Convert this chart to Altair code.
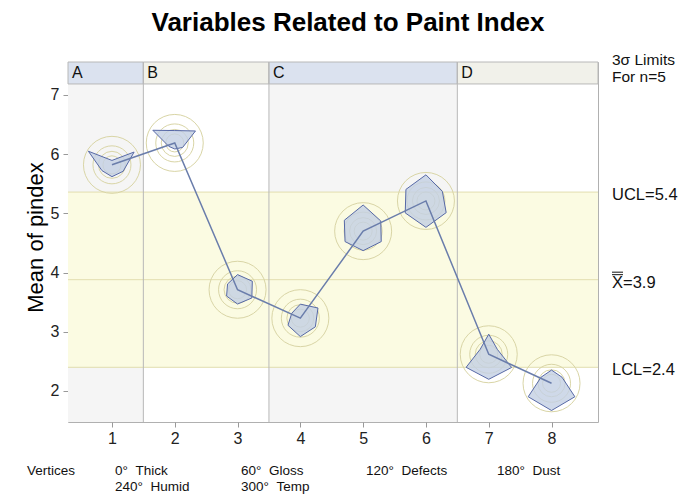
import altair as alt
import pandas as pd
import numpy as np

# ---------------- data ----------------
samples = [1, 2, 3, 4, 5, 6, 7, 8]
means = [5.82, 6.19, 3.71, 3.23, 4.70, 5.21, 2.62, 2.13]
phases = ["A", "B", "C", "D"]
phase_first = [1, 2, 4, 7]
phase_last = [1, 3, 6, 8]
ucl, center, lcl = 5.36, 3.88, 2.40
limit_labels = ["UCL=5.4", "X=3.9", "LCL=2.4"]
vertex_names = ["Thick", "Gloss", "Defects", "Dust", "Humid", "Temp"]
vertex_angles = [0, 60, 120, 180, 240, 300]
# relative vertex lengths (1 = outer reference circle), order as vertex_names
star_values = [
    [0.16, 0.93, 0.47, 0.43, 0.42, 0.99],
    [0.45, 0.87, 0.33, 0.22, 0.25, 0.92],
    [0.55, 0.62, 0.60, 0.52, 0.46, 0.42],
    [0.51, 0.74, 0.63, 0.67, 0.52, 0.36],
    [0.95, 0.74, 0.76, 0.71, 0.76, 0.79],
    [0.95, 0.69, 0.85, 0.96, 0.87, 0.84],
    [0.73, 0.36, 0.96, 0.91, 0.95, 0.36],
    [0.48, 0.44, 0.98, 0.99, 0.98, 0.44],
]

# ---------------- layout ----------------
W, H = 530, 360
XMIN, XMAX = 0.3, 8.74
YMIN, YMAX = 1.476, 7.557
HDR = 7.186
R_OUT = 27.5
FONT = "Liberation Sans"
NB = "\u00a0"
px_x = W / (XMAX - XMIN)
px_y = H / (YMAX - YMIN)

xs = alt.Scale(domain=[XMIN, XMAX], nice=False, zero=False)
ys = alt.Scale(domain=[YMIN, YMAX], nice=False, zero=False)

# phase table
x0s = [f - 0.5 for f in phase_first]
x1s = [l + 0.5 for l in phase_last]
x0s[0] = XMIN
x1s[-1] = XMAX
ph = pd.DataFrame({
    "phase": phases,
    "x0": x0s,
    "x1": x1s,
    "bg": ["#f5f5f5", "#ffffff", "#f5f5f5", "#ffffff"],
    "hd": ["#dbe2ef", "#f1f1ea", "#dbe2ef", "#f1f1ea"],
})
ph["y0"] = YMIN
ph["yh"] = HDR
ph["yt"] = YMAX
ph["ym"] = (HDR + YMAX) / 2

pts = pd.DataFrame({"sample": samples, "mean": means})

rows = []
for s, m, vals in zip(samples, means, star_values):
    for i, (a, v) in enumerate(zip(vertex_angles, vals)):
        rad = np.deg2rad(a)
        rows.append({
            "sample": s, "vi": i, "var": vertex_names[i],
            "x": s + v * R_OUT * np.sin(rad) / px_x,
            "y": m + v * R_OUT * np.cos(rad) / px_y,
        })
star_df = pd.DataFrame(rows)

lim = pd.DataFrame({"label": limit_labels, "y": [ucl, center, lcl]})
band = pd.DataFrame({"x0": [XMIN], "x1": [XMAX], "lo": [lcl], "hi": [ucl]})
hl = pd.DataFrame({"y": [ucl, center, lcl]})
div = pd.DataFrame({"x": [f - 0.5 for f in phase_first[1:]]})
cl = pd.DataFrame({"y": [center]})

# ---------------- layers ----------------
bg = alt.Chart(ph).mark_rect(strokeWidth=0).encode(
    x=alt.X("x0:Q", scale=xs, axis=alt.Axis(values=samples, title=None, labelAngle=0,
            format="d", labelFontSize=16, labelColor="#222", tickColor="#999", tickSize=5,
            labelPadding=3, domain=False, grid=False, labelFont=FONT)),
    x2="x1:Q",
    y=alt.Y("y0:Q", scale=ys, axis=alt.Axis(values=[2, 3, 4, 5, 6, 7], title="Mean of pindex",
            format="d", labelFontSize=16, labelColor="#222", tickColor="#999", tickSize=5,
            labelPadding=4, domain=False, grid=False, titleFontSize=22,
            titleFontWeight="normal", titleColor="#000", titlePadding=3,
            titleY=175, labelFont=FONT, titleFont=FONT)),
    y2="yh:Q",
    fill=alt.Fill("bg:N", scale=None),
)

band_l = alt.Chart(band).mark_rect(color="#fbfbe2").encode(
    x="x0:Q", x2="x1:Q", y="lo:Q", y2="hi:Q")

hlines = alt.Chart(hl).mark_rule(color="#e2deb0", strokeWidth=1).encode(y="y:Q")

hdr = alt.Chart(ph).mark_rect(stroke="#b8b8b8", strokeWidth=1).encode(
    x="x0:Q", x2="x1:Q", y="yh:Q", y2="yt:Q",
    fill=alt.Fill("hd:N", scale=None))

divs = alt.Chart(div).mark_rule(color="#b8b8b8", strokeWidth=1).encode(
    x="x:Q", y=alt.value(0), y2=alt.value(H))

ph_lab = alt.Chart(ph).mark_text(align="left", baseline="middle", dx=4, fontSize=16,
                                 font=FONT, color="#111").encode(
    x="x0:Q", y="ym:Q", text="phase:N")

circ_col = "#d9d5a6"
circles = [
    alt.Chart(pts).mark_point(shape="circle", filled=False, size=sz, color=circ_col,
                              strokeWidth=1, opacity=1).encode(x="sample:Q", y="mean:Q")
    for sz in [57 ** 2, 38 ** 2, 27 ** 2, 18 ** 2]
]

stars = alt.Chart(star_df).mark_line(interpolate="linear-closed", fill="#c3cfe3",
                                     fillOpacity=0.8, stroke="#5769a6",
                                     strokeWidth=1).encode(
    x="x:Q", y="y:Q", detail="sample:N", order="vi:Q")

conn = alt.Chart(pts).mark_line(color="#6a7dab", strokeWidth=1.5).encode(
    x="sample:Q", y="mean:Q")

lim_txt = alt.Chart(lim).mark_text(align="left", baseline="middle", fontSize=16.5,
                                   font=FONT, color="#111", dy=3).encode(
    x=alt.value(544), y="y:Q", text="label:N")

# double bar over the X of the centre-line label
bars = [
    alt.Chart(cl).mark_rule(color="#111", strokeWidth=1, yOffset=off).encode(
        y="y:Q", x=alt.value(544), x2=alt.value(555))
    for off in [-5, -7.5]
]

notes = pd.DataFrame({"t": ["3\u03c3 Limits", "For n=5"]})
notes["px"] = 544
notes["py"] = [-2, 15]
note_txt = alt.Chart(notes).mark_text(align="left", baseline="middle", fontSize=15.5,
                                      font=FONT, color="#111").encode(
    x=alt.X("px:Q", scale=None), y=alt.Y("py:Q", scale=None), text="t:N")

title_txt = alt.Chart(pd.DataFrame({"t": ["Variables Related to Paint Index"]})).mark_text(
    align="center", baseline="middle", fontSize=26, fontWeight="bold", font=FONT,
    color="#000").encode(x=alt.value(280), y=alt.value(-39), text="t:N")

vert_text = ["Vertices"] + [f"{a}\u00b0{NB}{NB}{n}" for a, n in zip(vertex_angles, vertex_names)]
vx = [-41, 47, 173, 298, 429, 47, 173]
vy = [409, 409, 409, 409, 409, 425, 425]
vt = pd.DataFrame({"t": vert_text, "px": vx, "py": vy})
vert_txt = alt.Chart(vt).mark_text(align="left", baseline="middle", fontSize=13.5,
                                   font=FONT, color="#111").encode(
    x=alt.X("px:Q", scale=None), y=alt.Y("py:Q", scale=None), text="t:N")

chart = alt.layer(
    bg, band_l, hlines, hdr, divs, ph_lab, *circles, stars, conn,
    lim_txt, *bars, note_txt, title_txt, vert_txt
).properties(
    width=W, height=H,
    autosize=alt.AutoSizeParams(type="none"),
    padding={"left": 60, "top": 54, "right": 85, "bottom": 73},
).configure_view(stroke="#b0b0b0", strokeWidth=1)

chart.save("out.html", embed_options={"renderer": "svg", "actions": False})
